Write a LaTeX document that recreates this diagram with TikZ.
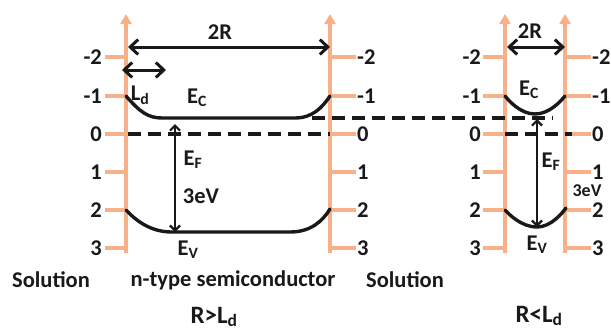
\documentclass[tikz,border=0pt]{standalone}
\usepackage{fontspec}
\setmainfont{Carlito}
\usetikzlibrary{arrows.meta,positioning}
\definecolor{axiscol}{RGB}{247,176,136}
\definecolor{inkcol}{RGB}{25,25,25}
\tikzset{
  axisline/.style={draw=axiscol,line width=3.4pt,-{Triangle[length=10pt,width=11pt]}},
  axtick/.style={draw=axiscol,line width=3.4pt},
  band/.style={draw=inkcol,line width=3.4pt,line cap=round},
  fermi/.style={draw=inkcol,line width=3.4pt,dash pattern=on 13pt off 7pt},
  span/.style={draw=inkcol,line width=3pt,
    {Straight Barb[length=8pt,width=15pt]}-{Straight Barb[length=8pt,width=15pt]}},
  gaparrow/.style={draw=inkcol,line width=2.2pt,
    {Straight Barb[length=5pt,width=10pt]}-{Straight Barb[length=5pt,width=10pt]}},
  lbl/.style={text=inkcol,font=\fontsize{22.5}{25}\selectfont\bfseries,inner sep=0pt},
  smalllbl/.style={lbl,font=\fontsize{18}{20}\selectfont\bfseries},
  title/.style={text=inkcol,font=\fontsize{25}{28}\selectfont\bfseries,inner sep=0pt}
}

\begin{document}
\begin{tikzpicture}[x=1pt,y=-1pt]
\useasboundingbox (0,0) rectangle (611,330);
% axes
\coordinate (la) at (126,253); \coordinate (laT) at (126,14);
\coordinate (ra) at (330,253); \coordinate (raT) at (330,14);
\coordinate (lb) at (505,253); \coordinate (lbT) at (505,14);
\coordinate (rb) at (565,253); \coordinate (rbT) at (565,14);
\draw[axisline] (la) -- (laT);
\draw[axisline] (ra) -- (raT);
\draw[axisline] (lb) -- (lbT);
\draw[axisline] (rb) -- (rbT);
\foreach \v/\yy [count=\i] in {-2/57,-1/96,0/134,1/172,2/210,3/248}{
  \draw[axtick] (105,\yy) -- (126,\yy);
  \draw[axtick] (330,\yy) -- (356,\yy);
  \draw[axtick] (483,\yy) -- (505,\yy);
  \draw[axtick] (565,\yy) -- (591,\yy);
  \node[lbl,anchor=east] (tla\i) at (102,\yy) {\v};
  \node[lbl,anchor=west] (tra\i) at (357,\yy) {\v};
  \node[lbl,anchor=east] (tlb\i) at (481,\yy) {\v};
  \node[lbl,anchor=west] (trb\i) at (592,\yy) {\v};
}
% bands, R > Ld
\draw[band] (126,96) .. controls (140,112) and (148,118) .. (162,118)
  -- (295,118) .. controls (312,118) and (322,108) .. (330,96);
\draw[band] (126,210) .. controls (140,225) and (155,232) .. (172,232)
  -- (290,232) .. controls (310,232) and (322,222) .. (330,209);
\draw[fermi] (128,134) -- (330,134);
\draw[fermi] (312,118) -- (553,118);
% bands, R < Ld
\draw[band] (505,96) parabola bend (535,114) (565,96);
\draw[band] (505,210) parabola bend (537,227) (566,208);
\draw[fermi] (505,134) -- (572,134);
% dimensions
\coordinate (sA) at (128,47); \coordinate (sB) at (330,47);
\coordinate (dA) at (122,70); \coordinate (dB) at (166,70);
\coordinate (sC) at (507,47); \coordinate (sD) at (565,47);
\draw[span] (sA) -- (sB);
\draw[span] (dA) -- (dB);
\draw[span] (sC) -- (sD);
\coordinate (gA) at (175,124); \coordinate (gB) at (175,232);
\coordinate (gC) at (537,119); \coordinate (gD) at (537,227);
\draw[gaparrow] (gA) -- (gB);
\draw[gaparrow] (gC) -- (gD);
% labels
\node[lbl] (twoR) at (220,32) {2R};
\node[lbl] (ld) at (140,95) {L\textsubscript{d}};
\node[lbl] (ecA) at (197,98) {E\textsubscript{C}};
\node[lbl] (efA) at (193,160) {E\textsubscript{F}};
\node[lbl] (egA) at (201,196) {3eV};
\node[lbl] (evA) at (188,250) {E\textsubscript{V}};
\node[lbl] (twoRb) at (530,31) {2R};
\node[lbl] (ecB) at (529,90) {E\textsubscript{C}};
\node[lbl] (efB) at (551,162) {E\textsubscript{F}};
\node[smalllbl] (egB) at (587,190.5) {3eV};
\node[lbl] (evB) at (537,245) {E\textsubscript{V}};
\node[lbl] (solA) at (51,280) {Solution};
\node[lbl] (semi) at (233,280) {n-type semiconductor};
\node[lbl] (solB) at (405,280) {Solution};
\node[title] (big) at (214,317) {R>L\textsubscript{d}};
\node[title] (small) at (539,316) {R<L\textsubscript{d}};
\end{tikzpicture}
\end{document}
